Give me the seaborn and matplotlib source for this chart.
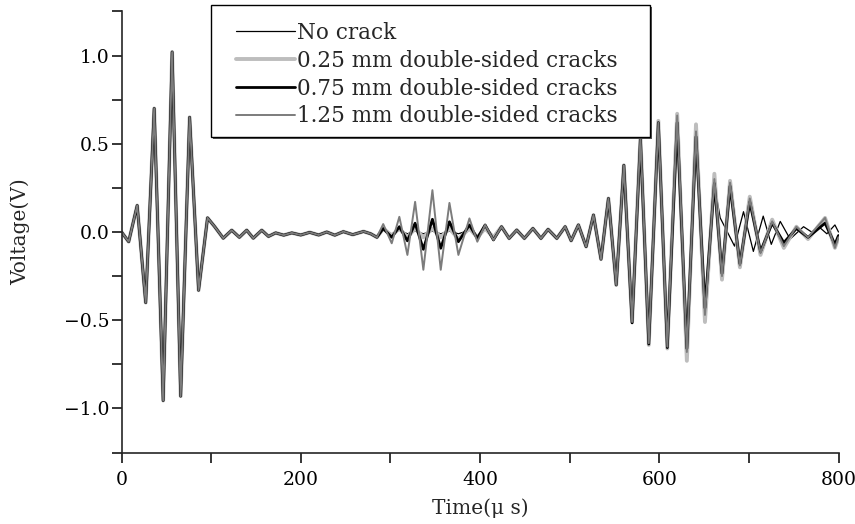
import matplotlib
matplotlib.use("Agg")
import matplotlib.pyplot as plt
import pandas as pd
import seaborn as sns
from matplotlib.ticker import MultipleLocator
from matplotlib.patches import Rectangle

series_names = ["No crack",
                "0.25 mm double-sided cracks",
                "0.75 mm double-sided cracks",
                "1.25 mm double-sided cracks"]

# shared first wave packet and quiet section (all four signals coincide)
t_head = [0, 8, 17.5, 27, 36.5, 46.5, 56.5, 66, 76, 86, 96, 104, 113.5, 123, 131.5,
          139.7, 147, 156.5, 164, 172, 181, 190, 200, 210, 220, 229, 238, 247.5, 258,
          270, 278]
v_head = [0, -0.055, 0.15, -0.40, 0.70, -0.955, 1.02, -0.93, 0.65, -0.33, 0.08, 0.03,
          -0.035, 0.01, -0.03, 0.01, -0.035, 0.01, -0.025, -0.005, -0.018, -0.005,
          -0.017, -0.002, -0.017, 0.0, -0.018, 0.002, -0.015, 0.003, -0.01]

# time of extrema after 285 us for cracked specimens
t_tail = [285, 292, 301.5, 310, 319, 327.6, 336.8, 346.9, 356.2, 365.9, 375.9, 388.2,
          397, 405.7, 415, 424, 432.5, 441, 449.5, 459, 468, 476, 485.7, 495, 501.7,
          509.8, 518.4, 526.6, 535, 543.3, 552, 560.5, 569.7, 579, 588.3, 599, 609,
          620, 630.8, 641, 651, 661.5, 670, 679, 690, 701, 713, 726, 739, 753, 766,
          785, 796, 800]

v_tail_025 = [-0.03, 0.02, -0.02, 0.02, -0.03, 0.02, -0.03, 0.02, -0.03, 0.02, -0.04,
              0.02, -0.03, 0.02, -0.03, 0.03, -0.036, 0.011, -0.036, 0.02, -0.036,
              0.015, -0.036, 0.03, -0.049, 0.04, -0.083, 0.096, -0.154, 0.19, -0.30,
              0.378, -0.51, 0.54, -0.64, 0.63, -0.66, 0.67, -0.73, 0.61, -0.51, 0.33,
              -0.27, 0.29, -0.20, 0.20, -0.13, 0.07, -0.09, 0.03, -0.04, 0.08, -0.09,
              -0.03]

v_tail_075 = [-0.03, 0.02, -0.03, 0.03, -0.05, 0.05, -0.098, 0.072, -0.092, 0.058,
              -0.055, 0.04, -0.036, 0.04, -0.045, 0.03, -0.036, 0.011, -0.036, 0.02,
              -0.036, 0.015, -0.036, 0.03, -0.049, 0.04, -0.083, 0.096, -0.154, 0.19,
              -0.30, 0.378, -0.515, 0.53, -0.635, 0.62, -0.655, 0.62, -0.66, 0.54,
              -0.43, 0.275, -0.235, 0.26, -0.18, 0.17, -0.11, 0.05, -0.06, 0.02, -0.03,
              0.05, -0.07, -0.02]

v_tail_125 = [-0.03, 0.045, -0.064, 0.086, -0.13, 0.171, -0.214, 0.237, -0.214, 0.165,
              -0.13, 0.077, -0.055, 0.04, -0.045, 0.03, -0.036, 0.011, -0.036, 0.02,
              -0.036, 0.015, -0.036, 0.03, -0.049, 0.04, -0.083, 0.096, -0.154, 0.19,
              -0.30, 0.378, -0.51, 0.54, -0.63, 0.62, -0.65, 0.66, -0.68, 0.57, -0.47,
              0.30, -0.25, 0.28, -0.19, 0.19, -0.12, 0.06, -0.08, 0.03, -0.03, 0.08,
              -0.09, -0.03]

# intact specimen after 285 us
t_tail_nc = [285, 292, 301.5, 310, 319, 327.6, 336.8, 346.9, 356.2, 365.9, 375.9, 388.2,
             397, 405.7, 415, 424, 432.5, 441, 449.5, 459, 468, 476, 485.7, 495, 501.7,
             509.8, 518.4, 526.6, 535, 543.3, 552, 560.5, 569.7, 579, 588.3, 599, 609,
             620, 630.8, 641, 651, 661.5, 668, 674, 684, 694, 705, 716, 725, 735, 746,
             761, 770, 778, 787, 796, 800]
v_tail_nc = [-0.03, 0.01, -0.01, 0.01, -0.01, 0.005, -0.01, 0.005, -0.01, 0.005, -0.01,
             0.01, -0.02, 0.02, -0.03, 0.03, -0.036, 0.011, -0.036, 0.02, -0.036, 0.015,
             -0.036, 0.03, -0.049, 0.04, -0.083, 0.096, -0.154, 0.19, -0.30, 0.378,
             -0.51, 0.53, -0.63, 0.62, -0.65, 0.64, -0.66, 0.54, -0.43, 0.27, 0.08, 0.02,
             -0.08, 0.115, -0.11, 0.09, -0.07, 0.06, -0.04, 0.03, 0.0, 0.03, -0.01, 0.04,
             0.0]

x_ticks = [0, 200, 400, 600, 800]
y_ticks = [-1.0, -0.5, 0.0, 0.5, 1.0]

sns.set_style("ticks")
plt.rcParams["font.family"] = ["DejaVu Serif"]
plt.rcParams["axes.unicode_minus"] = True

series_data = {
    series_names[0]: (t_head + t_tail_nc, v_head + v_tail_nc),
    series_names[1]: (t_head + t_tail, v_head + v_tail_025),
    series_names[2]: (t_head + t_tail, v_head + v_tail_075),
    series_names[3]: (t_head + t_tail, v_head + v_tail_125),
}
styles = {
    series_names[0]: dict(color="#000000", lw=0.9),
    series_names[1]: dict(color="#bdbdbd", lw=2.8),
    series_names[2]: dict(color="#000000", lw=2.0),
    series_names[3]: dict(color="#7c7c7c", lw=1.4),
}

W, H = 855, 524
fig = plt.figure(figsize=(W / 100, H / 100), dpi=100)
ax = fig.add_axes([121.5 / W, 1 - 452.6 / H, (838.5 - 121.5) / W, (452.6 - 11.4) / H])

for name in series_names:
    t, v = series_data[name]
    df = pd.DataFrame({"t": t, "v": v})
    st = styles[name]
    sns.lineplot(data=df, x="t", y="v", ax=ax, sort=False, estimator=None,
                 color=st["color"], linewidth=st["lw"], label=name,
                 solid_joinstyle="round", solid_capstyle="round")

ax.set_xlim(0, 800)
ax.set_ylim(-1.25, 1.25)
ax.set_xticks(x_ticks)
ax.set_yticks(y_ticks)
ax.set_xticklabels([str(x) for x in x_ticks])
ax.set_yticklabels([f"{y:.1f}".replace("-", "\u2212") for y in y_ticks])
ax.xaxis.set_minor_locator(MultipleLocator(100))
ax.yaxis.set_minor_locator(MultipleLocator(0.25))
ax.tick_params(axis="both", which="both", direction="out", length=7, width=1.1,
               colors="black", labelsize=13.5)
ax.tick_params(axis="x", which="major", pad=6)
ax.tick_params(axis="y", which="major", pad=1.5)
sns.despine(ax=ax)
for sp in ["left", "bottom"]:
    ax.spines[sp].set_linewidth(1.2)
ax.set_xlabel("")
ax.set_ylabel("")

fig.text(20 / W, 1 - 232 / H, "Voltage(V)", rotation=90, ha="center", va="center",
         fontsize=14.5)
fig.text(480 / W, 1 - 508 / H, "Time(\u03bc s)", ha="center", va="center",
         fontsize=14.5)

ax.get_legend().remove()
handles, labels = ax.get_legend_handles_labels()
leg = fig.legend(handles, labels, loc="upper left",
                 bbox_to_anchor=(236 / W, 1 - 22 / H), bbox_transform=fig.transFigure,
                 frameon=False, fontsize=15.5, handlelength=2.75, handletextpad=0.1,
                 labelspacing=0.27, borderpad=0, borderaxespad=0)
leg.set_zorder(5)

# legend box with a slight drop shadow
fig.patches.append(Rectangle((213 / W, 1 - 139 / H), (650 - 211) / W, (137 - 5) / H,
                             transform=fig.transFigure, facecolor="#555555",
                             edgecolor="none", zorder=3))
fig.patches.append(Rectangle((211 / W, 1 - 137 / H), (650 - 211) / W, (137 - 5) / H,
                             transform=fig.transFigure, facecolor="white",
                             edgecolor="black", linewidth=1.0, zorder=4))

fig.savefig("out.png", dpi=100)
